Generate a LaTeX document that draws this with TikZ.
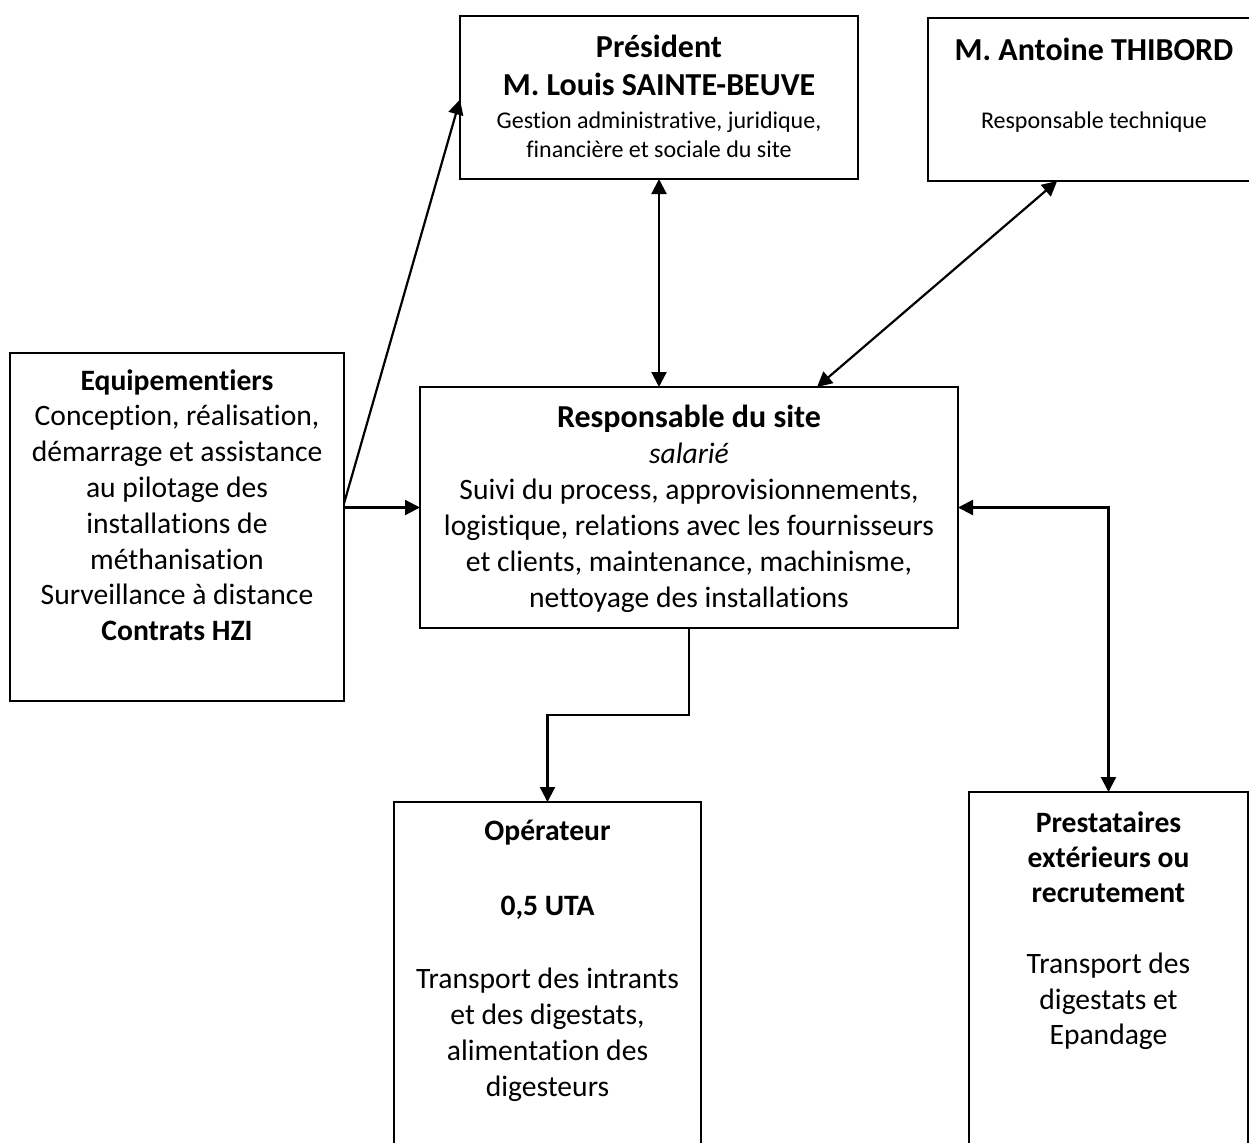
\documentclass[tikz,border=0pt]{standalone}
\usepackage{fontspec}
\setmainfont{Carlito}[Ligatures=NoCommon, Contextuals=NoAlternate]
\usetikzlibrary{arrows.meta,calc}
\newcommand{\tline}[3]{{\fontsize{#1}{#2}\selectfont #3\par}}
\newcommand{\boxtext}[3]{\parbox[c][#2][t]{#1}{\centering #3}}
\tikzset{
  box/.style={draw, line width=0.85pt, inner sep=0pt, outer sep=0pt, anchor=north west},
  conn/.style={line width=1.1pt, >={Triangle[length=7.5pt,width=7.5pt]}}
}
\begin{document}
\begin{tikzpicture}[x=0.5pt, y=-0.5pt]
\useasboundingbox (0,0) rectangle (1249,1142);
\fill[white] (0,0) rectangle (1249,1142);
\clip (0,0) rectangle (1249,1142);

\node[box] (pres) at (460,16) {\boxtext{199pt}{81.5pt}{%
  \tline{16}{19}{\rule{0pt}{20.5pt}\bfseries Président}
  \tline{16}{19}{\bfseries M. Louis SAINTE-BEUVE}
  \tline{12}{16.5}{Gestion administrative, juridique,}
  \tline{12}{14.5}{financière et sociale du site}}};

\node[box] (thib) at (928,18) {\boxtext{166pt}{81.5pt}{%
  \tline{16}{19}{\rule{0pt}{21pt}\bfseries M. Antoine THIBORD}
  \tline{12}{34}{Responsable technique}}};

\node[box] (equip) at (10,353) {\boxtext{167pt}{174pt}{%
  \tline{14.8}{17.9}{\rule{0pt}{18.5pt}\bfseries Equipementiers}
  \tline{14.8}{17.9}{Conception, réalisation,}
  \tline{14.8}{17.9}{démarrage et assistance}
  \tline{14.8}{17.9}{au pilotage des}
  \tline{14.8}{17.9}{installations de}
  \tline{14.8}{17.9}{méthanisation}
  \tline{14.8}{17.9}{Surveillance à distance}
  \tline{14.8}{17.9}{\bfseries Contrats HZI}}};

\node[box] (resp) at (420,387) {\boxtext{269pt}{120.5pt}{%
  \tline{16}{18}{\rule{0pt}{20pt}\bfseries Responsable du site}
  \tline{14.8}{18}{\itshape salarié}
  \tline{14.8}{18}{Suivi du process, approvisionnements,}
  \tline{14.8}{18}{logistique, relations avec les fournisseurs}
  \tline{14.8}{18}{et clients, maintenance, machinisme,}
  \tline{14.8}{18}{nettoyage des installations}}};

\node[box] (oper) at (394,802) {\boxtext{153.5pt}{179pt}{%
  \tline{14.8}{18}{\rule{0pt}{19pt}\bfseries Opérateur}
  \tline{14.8}{37.5}{\bfseries 0,5 UTA}
  \tline{14.8}{36.5}{Transport des intrants}
  \tline{14.8}{18}{et des digestats,}
  \tline{14.8}{18}{alimentation des}
  \tline{14.8}{18}{digesteurs}}};

\node[box] (prest) at (969,792) {\boxtext{139.5pt}{184pt}{%
  \tline{14.8}{17.5}{\rule{0pt}{20pt}\bfseries Prestataires}
  \tline{14.8}{17.5}{\bfseries extérieurs ou}
  \tline{14.8}{17.5}{\bfseries recrutement}
  \tline{14.8}{35.5}{Transport des}
  \tline{14.8}{18}{digestats et}
  \tline{14.8}{17.5}{Epandage}}};

\draw[conn, ->] (equip.east |- resp.west) -- (resp.west);
\draw[conn, ->] ([yshift=2pt]equip.east |- resp.west) -- ([yshift=-1pt]pres.west);
\draw[conn, <->] (pres.south) -- (pres.south |- resp.north);
\draw[conn, <->] ($(thib.south west)!0.389!(thib.south east)$) -- ($(resp.north west)!0.738!(resp.north east)$);
\draw[conn, ->] (resp.south) -- ++(0,87) -| (oper.north);
\draw[conn, <->] (resp.east) -| (prest.north);
\end{tikzpicture}
\end{document}
